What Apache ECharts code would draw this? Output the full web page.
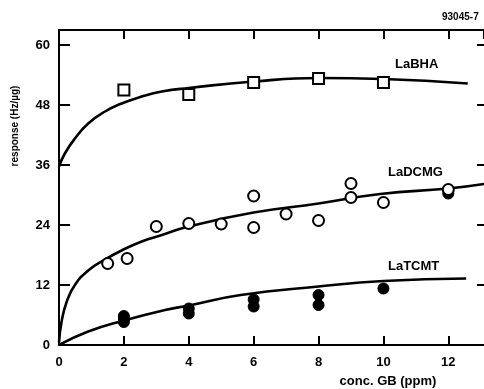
<!DOCTYPE html>
<html>
<head>
<meta charset="utf-8">
<script src="https://cdn.jsdelivr.net/npm/echarts@6/dist/echarts.min.js"></script>
<style>
  html, body { margin: 0; padding: 0; background: #fff; }
  #chart { width: 484px; height: 389px; }
</style>
</head>
<body>
<div id="chart"></div>
<script>
// measured points (conc. GB ppm, response Hz/ug)
const bhaPoints = [[2, 51], [4, 50.1], [6, 52.5], [8, 53.3], [10, 52.5]];
const bhaCurve = [[0, 35.7], [0.18, 38.3], [0.49, 41.3], [0.9, 44.3], [1.42, 46.7], [1.93, 48.3], [2.55, 49.7], [3.17, 50.7], [4, 51.4], [6, 52.7], [8, 53.4], [10, 53.2], [12.6, 52.3]];

const dcmgPoints = [[1.5, 16.3], [2.1, 17.3], [3, 23.7], [4, 24.3], [5, 24.2], [6, 23.5], [6, 29.8], [7, 26.2], [8, 24.9], [9, 32.3], [9, 29.5], [10, 28.5], [12, 31.1]];
const dcmgCurve = [[0, 0.5], [0.08, 4.7], [0.24, 8.7], [0.49, 12], [0.9, 14.9], [1.42, 17.1], [1.93, 18.9], [2.55, 20.7], [3.17, 22], [4, 23.7], [6, 26.5], [8, 28.3], [9.9, 30.2], [12, 31.3], [13.1, 32.2]];

const tcmtPoints = [[2, 4.6], [2, 5.2], [2, 5.8], [4, 6.3], [4, 7.3], [6, 7.7], [6, 9.1], [8, 8], [8, 10], [10, 11.3], [12, 30.3]];
const tcmtCurve = [[0, 0], [0.9, 2.7], [2, 4.9], [3.27, 7], [4, 7.9], [5.6, 10], [8, 11.7], [10, 12.8], [12.55, 13.3]];

const seriesNames = ['LaBHA', 'LaDCMG', 'LaTCMT'];

const chart = echarts.init(document.getElementById('chart'));
const font = 'Liberation Sans, Arial, sans-serif';

const curve = (data) => ({
  type: 'line',
  data: data,
  smooth: 0.5,
  showSymbol: false,
  silent: true,
  lineStyle: { color: '#000', width: 2.6 },
  z: 2
});

const axisLine = { onZero: false, lineStyle: { color: '#000', width: 2 } };

chart.setOption({
  animation: false,
  backgroundColor: '#fff',
  grid: { left: 59, right: 0, top: 30, bottom: 44 },
  xAxis: [{
    type: 'value', min: 0, max: 13.1, interval: 2,
    axisLine: axisLine,
    axisTick: { inside: true, length: 9, lineStyle: { color: '#000', width: 2 } },
    axisLabel: { color: '#000', fontFamily: font, fontWeight: 'bold', fontSize: 13, margin: 11, showMaxLabel: false },
    splitLine: { show: false }
  }, {
    type: 'value', position: 'top', min: 0, max: 13.1, interval: 2,
    axisLine: axisLine,
    axisTick: { inside: true, length: 9, lineStyle: { color: '#000', width: 2 } },
    axisLabel: { show: false },
    splitLine: { show: false }
  }],
  yAxis: [{
    type: 'value', min: 0, max: 63, interval: 12,
    axisLine: { show: true, onZero: false, lineStyle: { color: '#000', width: 2 } },
    axisTick: { show: true, inside: true, length: 11, lineStyle: { color: '#000', width: 2 } },
    axisLabel: { color: '#000', fontFamily: font, fontWeight: 'bold', fontSize: 13, margin: 9, showMaxLabel: false },
    splitLine: { show: false }
  }, {
    type: 'value', position: 'right', min: 0, max: 63, interval: 12,
    axisLine: { show: false, onZero: false },
    axisTick: { show: true, inside: true, length: 7, lineStyle: { color: '#000', width: 2 } },
    axisLabel: { show: false },
    splitLine: { show: false }
  }],
  graphic: [
    { type: 'text', left: 442, top: 12, style: { text: '93045-7', fontSize: 10, fontWeight: 'bold', fontFamily: font, fill: '#000' } },
    { type: 'text', x: 15, y: 126, rotation: Math.PI / 2, style: { text: 'response (Hz/µg)', fontSize: 10, fontWeight: 'bold', fontFamily: font, fill: '#000', textAlign: 'center', textVerticalAlign: 'middle' } },
    { type: 'text', x: 388, y: 381, style: { text: 'conc. GB (ppm)', fontSize: 13, fontWeight: 'bold', fontFamily: font, fill: '#000', textAlign: 'center', textVerticalAlign: 'middle' } },
    { type: 'text', left: 395, top: 58, style: { text: seriesNames[0], fontSize: 13, fontWeight: 'bold', fontFamily: font, fill: '#000' } },
    { type: 'text', left: 388, top: 166, style: { text: seriesNames[1], fontSize: 13, fontWeight: 'bold', fontFamily: font, fill: '#000' } },
    { type: 'text', left: 388, top: 260, style: { text: seriesNames[2], fontSize: 13, fontWeight: 'bold', fontFamily: font, fill: '#000' } }
  ],
  series: [
    curve(bhaCurve),
    curve(dcmgCurve),
    curve(tcmtCurve),
    {
      name: seriesNames[0], type: 'scatter', data: bhaPoints, symbol: 'rect', symbolSize: 11,
      itemStyle: { color: '#fff', borderColor: '#000', borderWidth: 2, opacity: 1 }, z: 3
    },
    {
      name: seriesNames[1], type: 'scatter', data: dcmgPoints, symbol: 'circle', symbolSize: 11,
      itemStyle: { color: '#fff', borderColor: '#000', borderWidth: 2, opacity: 1 }, z: 4
    },
    {
      name: seriesNames[2], type: 'scatter', data: tcmtPoints, symbol: 'circle', symbolSize: 11,
      itemStyle: { color: '#000', borderColor: '#000', borderWidth: 1, opacity: 1 }, z: 3
    }
  ]
});
</script>
</body>
</html>
